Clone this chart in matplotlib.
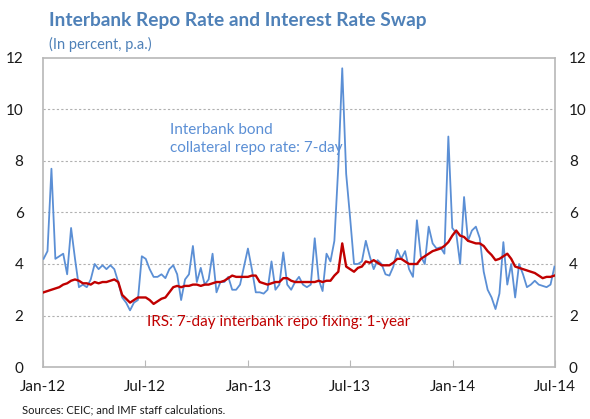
import matplotlib
matplotlib.use('Agg')
import matplotlib.pyplot as plt
import matplotlib.dates as mdates
import pandas as pd

plt.rcParams['font.family'] = ['Lato', 'DejaVu Sans']

# weekly observations, Jan 2012 - Jun 2014
dates = pd.date_range('2012-01-02', periods=131, freq='7D')

repo = [4.2, 4.5, 7.7, 4.2, 4.3, 4.4, 3.6, 5.4, 4.2, 3.1,
        3.2, 3.1, 3.4, 4.0, 3.8, 3.95, 3.8, 3.95, 3.8, 3.3,
        2.7, 2.5, 2.2, 2.5, 2.6, 4.3, 4.2, 3.8, 3.5, 3.5,
        3.6, 3.45, 3.8, 3.95, 3.6, 2.6, 3.4, 3.6, 4.7, 3.3,
        3.85, 3.2, 3.4, 4.4, 2.9, 3.3, 3.3, 3.5, 3.0, 3.0,
        3.2, 3.9, 4.6, 3.8, 2.9, 2.9, 2.85, 3.0, 4.1, 3.0,
        3.2, 4.45, 3.2, 3.0, 3.3, 3.5, 3.2, 3.1, 3.2, 5.0,
        3.4, 2.95, 4.4, 4.1, 4.9, 7.8, 11.6, 7.5, 5.8, 4.0,
        4.0, 4.1, 4.9, 4.3, 3.8, 4.15, 4.0, 3.6, 3.55, 3.9,
        4.55, 4.2, 4.5, 3.8, 3.5, 5.7, 4.3, 4.0, 5.45, 4.8,
        4.6, 4.65, 4.4, 8.95, 5.4, 5.2, 4.0, 6.6, 4.9, 5.3,
        5.45, 5.0, 3.7, 3.0, 2.7, 2.25, 2.85, 4.85, 3.2, 4.0,
        2.7, 4.0, 3.6, 3.1, 3.2, 3.35, 3.2, 3.15, 3.1, 3.2,
        3.9]

irs = [2.9, 2.95, 3.0, 3.05, 3.1, 3.2, 3.25, 3.35, 3.4, 3.35,
       3.25, 3.25, 3.2, 3.3, 3.25, 3.3, 3.3, 3.35, 3.4, 3.3,
       2.8, 2.65, 2.5, 2.6, 2.7, 2.7, 2.7, 2.6, 2.45, 2.55,
       2.65, 2.7, 2.9, 3.1, 3.15, 3.1, 3.15, 3.15, 3.2, 3.2,
       3.15, 3.2, 3.2, 3.25, 3.3, 3.3, 3.35, 3.45, 3.55, 3.5,
       3.5, 3.5, 3.5, 3.55, 3.55, 3.3, 3.25, 3.2, 3.25, 3.3,
       3.3, 3.45, 3.45, 3.35, 3.3, 3.3, 3.3, 3.3, 3.3, 3.3,
       3.35, 3.3, 3.35, 3.35, 3.55, 3.7, 4.8, 3.9, 3.8, 3.7,
       3.85, 3.9, 4.1, 4.05, 4.15, 4.05, 3.95, 3.95, 3.95, 4.05,
       4.2, 4.2, 4.1, 4.0, 4.0, 4.0, 4.2, 4.3, 4.4, 4.5,
       4.55, 4.6, 4.7, 4.85, 5.1, 5.3, 5.1, 5.05, 4.9, 4.85,
       4.8, 4.8, 4.7, 4.5, 4.35, 4.15, 4.2, 4.3, 4.4, 4.2,
       3.9, 3.85, 3.8, 3.75, 3.7, 3.65, 3.55, 3.45, 3.5, 3.5,
       3.55]

xticks = pd.to_datetime(['2012-01-01', '2012-07-01', '2013-01-01',
                         '2013-07-01', '2014-01-01', '2014-07-01'])
yticks = [0, 2, 4, 6, 8, 10, 12]

blue = '#5b8fd5'
red = '#c00000'
title_blue = '#4f81b8'

fig = plt.figure(figsize=(5.9, 4.19), dpi=100)
ax = fig.add_axes([0.0729, 0.1241, 0.8678, 0.7375])

ax.plot(dates, repo, color=blue, lw=1.3, zorder=3)
ax.plot(dates, irs, color=red, lw=1.7, zorder=4)

ax.set_xlim(xticks[0], xticks[-1])
ax.set_ylim(0, 12)
ax.set_yticks(yticks)
ax.set_xticks(xticks)
ax.xaxis.set_major_formatter(mdates.DateFormatter('%b-%y'))

# dotted horizontal gridlines
for v in yticks[1:-1]:
    ax.axhline(v, color='#b0b0b0', lw=0.8, ls=(0, (2, 2)), zorder=1)

for s in ax.spines.values():
    s.set_color('#b8b8b8')
    s.set_linewidth(1.2)

ax.tick_params(axis='x', direction='in', length=5, color='#b8b8b8',
               labelsize=11, pad=9, labelcolor='#1a1a1a')
ax.tick_params(axis='y', length=0, labelsize=11, pad=14, labelcolor='#1a1a1a')

# same scale on the right
ax2 = ax.twinx()
ax2.set_ylim(0, 12)
ax2.set_yticks(yticks)
ax2.tick_params(axis='y', length=0, labelsize=11, pad=10, labelcolor='#1a1a1a')
for s in ax2.spines.values():
    s.set_visible(False)

fig.text(0.083, 0.952, 'Interbank Repo Rate and Interest Rate Swap',
         fontsize=13.8, fontweight='bold', color=title_blue, va='center')
fig.text(0.083, 0.895, '(In percent, p.a.)', fontsize=10.5,
         color=title_blue, va='center')

ax.text(pd.Timestamp('2012-08-15'), 8.85, 'Interbank bond\ncollateral repo rate: 7-day',
        color=blue, fontsize=11, va='center', linespacing=1.35)
ax.text(pd.Timestamp('2012-07-05'), 1.75, 'IRS: 7-day interbank repo fixing: 1-year',
        color=red, fontsize=11, va='center')

fig.text(0.037, 0.021, 'Sources: CEIC; and IMF staff calculations.',
         fontsize=8, color='#1a1a1a', va='center')

plt.savefig('out.png', dpi=100)
plt.close()
